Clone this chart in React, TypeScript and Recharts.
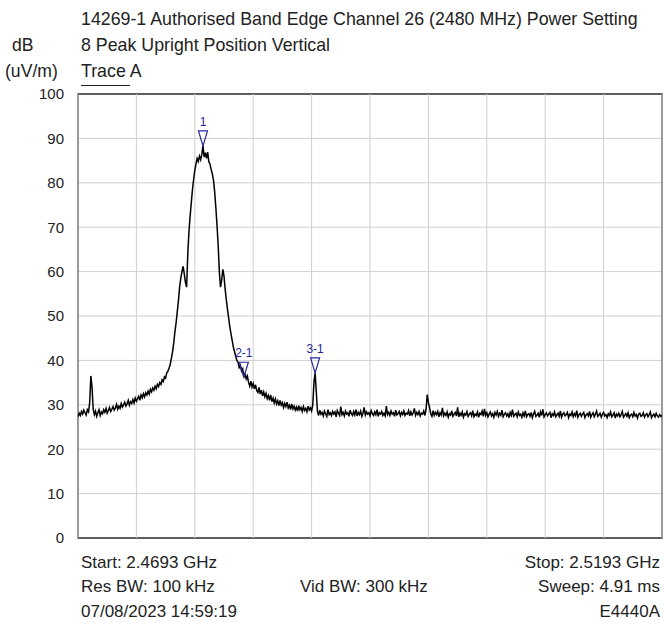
import { LineChart, Line, XAxis, YAxis, CartesianGrid, ReferenceArea, ReferenceDot, ReferenceLine } from 'recharts';

document.body.style.margin = '0';

// Sweep: 2469.3 MHz -> 2519.3 MHz, one reading every 0.1 MHz
const START_MHZ = 2469.3;
const STEP_MHZ = 0.1;

// Trace A, dB(uV/m)
const traceA = [
  27.3, 28.1, 27.6, 28.5, 27.9, 28.8, 28.2, 27.7, 28.9, 28.4,
  30.5, 36.5, 34.0, 29.0, 27.8, 28.6, 27.4, 28.2, 28.9, 27.6,
  28.4, 28.0, 28.9, 28.3, 29.2, 28.1, 28.7, 29.4, 28.5, 29.0,
  29.6, 28.8, 29.3, 30.1, 29.0, 29.7, 29.2, 30.3, 29.5, 30.0,
  30.6, 29.7, 30.2, 31.0, 29.9, 30.7, 30.3, 31.2, 30.4, 31.5,
  30.8, 31.4, 31.9, 31.0, 32.2, 31.6, 32.5, 31.8, 32.7, 32.2,
  33.1, 32.4, 33.5, 32.9, 33.8, 33.3, 34.2, 33.6, 34.6, 34.1,
  35.0, 34.6, 35.6, 35.2, 36.3, 36.0, 37.2, 37.6, 38.3, 39.2,
  40.5, 42.0, 44.0, 46.5, 48.5, 51.0, 53.5, 56.5, 58.5, 60.0,
  61.2, 59.5, 57.5, 56.5, 64.0, 69.0, 72.5, 75.5, 78.5, 80.8,
  82.8, 84.2, 85.5, 84.8, 86.0, 85.2, 86.4, 88.3, 85.8, 86.8,
  85.5, 86.9, 84.8, 84.2, 83.0, 82.0, 80.6, 78.0, 74.5, 70.5,
  66.0, 60.0, 56.5, 58.0, 60.5, 59.0, 56.0, 53.6, 51.5, 49.5,
  47.5, 46.0, 44.5, 43.0, 42.0, 41.0, 40.0, 39.6, 38.4, 38.9,
  37.6, 38.1, 36.2, 36.9, 35.8, 36.5, 35.1, 34.2, 35.3, 34.0,
  34.8, 33.6, 34.5, 33.2, 32.8, 33.9, 32.4, 33.3, 32.0, 32.9,
  31.8, 32.6, 31.4, 32.1, 31.0, 32.2, 30.7, 31.5, 30.4, 31.3,
  30.2, 30.9, 29.8, 31.0, 29.9, 30.5, 29.4, 30.3, 29.6, 30.6,
  29.3, 29.9, 28.9, 30.2, 29.1, 29.7, 28.8, 29.5, 28.6, 29.8,
  28.9, 29.4, 28.5, 29.6, 28.7, 29.2, 28.4, 29.7, 28.8, 29.3,
  28.6, 30.0, 35.0, 37.2, 33.0, 28.5, 27.6, 28.8, 27.9, 28.3,
  27.5, 28.6, 28.0, 27.4, 28.9, 27.8, 28.2, 27.6, 28.5, 27.9,
  28.4, 27.3, 28.7, 28.1, 27.6, 29.6, 27.8, 28.3, 27.5, 28.6,
  27.9, 28.2, 27.4, 28.8, 28.0, 27.6, 28.5, 27.7, 28.9, 27.5,
  28.3, 27.8, 28.6, 27.4, 28.1, 29.4, 27.7, 28.4, 27.9, 28.2,
  27.5, 28.7, 28.0, 27.6, 28.4, 27.8, 28.9, 27.4, 28.2, 27.9,
  28.5, 27.6, 28.1, 27.5, 29.7, 27.8, 28.3, 27.6, 28.6, 27.9,
  28.2, 27.4, 28.8, 27.7, 28.0, 28.5, 27.5, 28.3, 27.8, 28.6,
  27.6, 28.1, 27.9, 28.7, 27.5, 28.4, 27.7, 28.2, 29.2, 27.6,
  28.3, 27.8, 28.5, 27.5, 28.1, 27.9, 28.6, 27.6, 29.0, 32.3,
  30.5, 29.4, 28.0, 27.4, 28.7, 27.6, 28.3, 27.8, 28.5, 27.3,
  28.2, 27.7, 29.3, 27.5, 28.1, 27.6, 28.4, 27.2, 28.0, 27.7,
  28.6, 27.4, 27.9, 28.3, 27.5, 29.4, 27.3, 28.1, 27.6, 28.4,
  27.2, 28.0, 27.7, 28.5, 27.4, 27.9, 28.2, 27.5, 28.7, 27.3,
  27.9, 27.6, 28.4, 27.2, 28.1, 27.8, 28.6, 27.4, 29.1, 27.6,
  28.2, 27.3, 27.9, 28.4, 27.5, 28.0, 27.2, 28.3, 27.7, 28.5,
  27.4, 28.1, 27.6, 28.8, 27.3, 27.9, 28.2, 27.5, 28.0, 27.1,
  28.3, 27.6, 28.9, 27.4, 27.8, 28.1, 27.3, 28.4, 27.6, 27.9,
  27.2, 28.2, 27.5, 28.6, 27.3, 27.8, 28.0, 27.4, 28.3, 27.1,
  27.9, 28.5, 27.4, 27.7, 28.1, 27.2, 28.4, 27.6, 29.0, 27.3,
  27.8, 28.2, 27.5, 27.9, 28.3, 27.1, 28.0, 27.6, 28.4, 27.3,
  27.7, 28.1, 27.4, 28.6, 27.2, 27.9, 28.2, 27.5, 27.8, 28.3,
  27.1, 27.9, 27.6, 28.4, 27.3, 28.0, 27.5, 28.7, 27.2, 27.8,
  28.1, 27.4, 27.9, 28.3, 27.1, 27.7, 28.0, 27.5, 28.5, 27.2,
  27.8, 28.2, 27.3, 27.9, 28.6, 27.4, 27.7, 28.1, 27.2, 27.9,
  28.3, 27.5, 27.8, 27.1, 28.0, 27.6, 28.4, 27.3, 27.7, 28.2,
  27.0, 27.9, 27.5, 28.1, 27.3, 27.8, 28.5, 27.2, 27.6, 28.0,
  27.4, 28.2, 27.1, 27.7, 27.9, 27.3, 28.3, 27.5, 27.8, 27.0,
  27.9, 28.1, 27.4, 27.6, 28.2, 27.2, 27.7, 28.0, 27.3, 27.8,
  28.4, 27.1, 27.6, 27.9, 27.3, 28.1, 27.5, 27.2, 27.8, 27.4,
  27.6,
];

const freqTicks = [2469.3, 2474.3, 2479.3, 2484.3, 2489.3, 2494.3, 2499.3, 2504.3, 2509.3, 2514.3, 2519.3];
const levelTicks = [0, 10, 20, 30, 40, 50, 60, 70, 80, 90, 100];

const markerLabels = ['1', '2-1', '3-1'];
const markerFreqs = [2480.0, 2483.5, 2489.6];
const markerLevels = [88.3, 36.2, 37.2];

const data = traceA.map((v, i) => ({ f: Math.round((START_MHZ + i * STEP_MHZ) * 10) / 10, v }));

const FONT = '"Liberation Sans", Arial, sans-serif';
const MARK = '#27279a';
const GRID = '#cfcfcf';

function MarkerShape(props: any) {
  const { cx, cy, name } = props;
  return (
    <g>
      <path d={`M${cx - 4.5},${cy - 15} L${cx + 4.5},${cy - 15} L${cx},${cy} Z`} fill="none" stroke={MARK} strokeWidth={1.2} />
      <text x={cx} y={cy - 20} textAnchor="middle" fontSize={12} fontFamily={FONT} fill={MARK}>{name}</text>
    </g>
  );
}

const txt = (left: number, top: number, s: string, size: number, align: 'left' | 'right' = 'left', w = 0) => (
  <div style={{
    position: 'absolute', left, top, width: w || undefined, textAlign: align,
    fontFamily: FONT, fontSize: size, lineHeight: '20px', color: '#222', whiteSpace: 'nowrap',
  }}>{s}</div>
);

export default function App() {
  return (
    <div style={{ position: 'relative', width: 664, height: 625, background: '#fff' }}>
      {txt(81, 9, '14269-1 Authorised Band Edge Channel 26 (2480 MHz) Power Setting', 17.8)}
      {txt(12, 35, 'dB', 17.6)}
      {txt(81, 35, '8 Peak Upright Position Vertical', 17.8)}
      {txt(5, 61, '(uV/m)', 17.6)}
      {txt(81, 61, 'Trace A', 17.8)}
      <div style={{ position: 'absolute', left: 81, top: 85, width: 49, height: 1, background: '#222' }} />
      <div style={{ position: 'absolute', left: 0, top: 0 }}>
        <LineChart width={664} height={625} data={data} margin={{ top: 94, right: 2, bottom: 86, left: 8 }}>
          <CartesianGrid stroke={GRID} strokeWidth={1} vertical={false} />
          {freqTicks.map((f) => (
            <ReferenceLine key={f} x={f} stroke={GRID} strokeWidth={1} />
          ))}
          <XAxis dataKey="f" type="number" domain={[2469.3, 2519.3]} ticks={freqTicks}
            tick={false} axisLine={false} tickLine={false} height={1} allowDataOverflow />
          <YAxis type="number" domain={[0, 100]} ticks={levelTicks} width={70}
            axisLine={false} tickLine={false} tickSize={0} tickMargin={14}
            tick={{ fontSize: 15, fontFamily: FONT, fill: '#222' }} interval={0} />
          <Line type="linear" dataKey="v" stroke="#000" strokeWidth={1.5} dot={false} isAnimationActive={false} />
          <ReferenceArea x1={2469.3} x2={2519.3} y1={0} y2={100} fill="none" stroke="#333" strokeWidth={1.5} />
          {markerLabels.map((m, i) => (
            <ReferenceDot key={m} x={markerFreqs[i]} y={markerLevels[i]} r={0}
              shape={(p: any) => <MarkerShape {...p} name={m} />} />
          ))}
        </LineChart>
      </div>
      {txt(81, 553, 'Start: 2.4693 GHz', 17)}
      {txt(81, 577, 'Res BW: 100 kHz', 17)}
      {txt(81, 602, '07/08/2023 14:59:19', 17)}
      {txt(300, 577, 'Vid BW: 300 kHz', 17)}
      {txt(410, 553, 'Stop: 2.5193 GHz', 17, 'right', 250)}
      {txt(410, 577, 'Sweep: 4.91 ms', 17, 'right', 250)}
      {txt(410, 602, 'E4440A', 17, 'right', 250)}
    </div>
  );
}
